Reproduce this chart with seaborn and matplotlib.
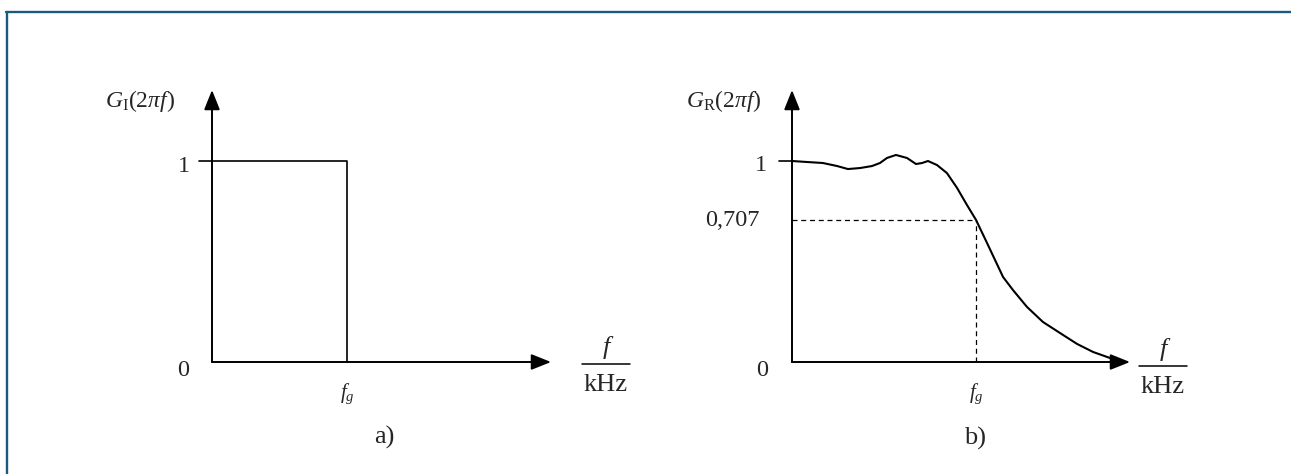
import matplotlib
matplotlib.use("Agg")
import matplotlib.pyplot as plt
from matplotlib.lines import Line2D
import numpy as np
import pandas as pd
import seaborn as sns

# ---------------- data ----------------
# a) ideal low-pass: frequency in units of f/fg
ideal_f = [0.0, 1.0, 1.0]
ideal_g = [1.0, 1.0, 0.0]

# b) real low-pass response read from the picture (f in units of f/fg)
real_f = [0.000, 0.082, 0.168, 0.245, 0.304, 0.370, 0.435, 0.478, 0.516, 0.565,
          0.625, 0.674, 0.707, 0.739, 0.788, 0.842, 0.897, 0.951, 1.000, 1.060,
          1.147, 1.201, 1.277, 1.364, 1.457, 1.549, 1.636, 1.728]
real_g = [1.000, 0.995, 0.990, 0.975, 0.960, 0.965, 0.975, 0.990, 1.015, 1.030,
          1.015, 0.985, 0.990, 1.000, 0.980, 0.940, 0.866, 0.781, 0.707, 0.592,
          0.423, 0.358, 0.274, 0.199, 0.144, 0.090, 0.050, 0.020]

cutoff_level = 0.707
f_cut = 1.0

ytick_left = [0, 1]
ytick_left_labels = ["0", "1"]
ytick_right = [0, cutoff_level, 1]
ytick_right_labels = ["0", "0,707", "1"]

# ---------------- style ----------------
sns.set_theme(style="white")
plt.rcParams["font.family"] = ["Liberation Serif", "DejaVu Serif"]
plt.rcParams["mathtext.fontset"] = "custom"
plt.rcParams["mathtext.rm"] = "Liberation Serif"
plt.rcParams["mathtext.it"] = "Liberation Serif:italic"
plt.rcParams["mathtext.bf"] = "Liberation Serif:bold"

W, H = 1291, 474
fig = plt.figure(figsize=(W / 100, H / 100), dpi=100)
fig.patch.set_facecolor("white")

# frame lines (top and left) of the picture
border = "#1b5a7d"
fig.add_artist(Line2D([6 / W, 1.0], [1 - 12 / H, 1 - 12 / H], color=border, lw=1.7))
fig.add_artist(Line2D([7 / W, 7 / W], [0.0, 1 - 12 / H], color=border, lw=1.7))

ypx0, ypx1 = 362, 161          # pixel rows of G=0 and G=1
ytop_px = 90                   # arrow tip row
ytop = (ypx0 - ytop_px) / (ypx0 - ypx1)


def make_axes(x0_px, xfg_px, xend_px):
    ax = fig.add_axes([x0_px / W, (H - ypx0) / H, (xend_px - x0_px) / W, (ypx0 - ytop_px) / H])
    ax.set_xlim(0, (xend_px - x0_px) / (xfg_px - x0_px))
    ax.set_ylim(0, ytop)
    ax.axis("off")
    ax.patch.set_alpha(0)
    xmax = ax.get_xlim()[1]
    arrow = dict(arrowstyle="-|>,head_length=0.6,head_width=0.24", color="black",
                 lw=1.4, shrinkA=0, shrinkB=0, mutation_scale=20)
    ax.annotate("", xy=(0, ytop), xytext=(0, 0), arrowprops=arrow, annotation_clip=False)
    ax.annotate("", xy=(xmax, 0), xytext=(0, 0), arrowprops=arrow, annotation_clip=False)
    return ax


axL = make_axes(212, 347, 551)
axR = make_axes(792, 976, 1130)

# ---- a) ideal ----
dfL = pd.DataFrame({"f": ideal_f, "G": ideal_g})
sns.lineplot(data=dfL, x="f", y="G", ax=axL, sort=False, estimator=None,
             color="black", lw=1.2)

# ---- b) real ----
dfR = pd.DataFrame({"f": real_f, "G": real_g})
sns.lineplot(data=dfR, x="f", y="G", ax=axR, sort=False, estimator=None,
             color="black", lw=1.5)
dash = dict(color="black", lw=0.9, ls=(0, (4, 3)))
axR.plot([0, f_cut], [cutoff_level, cutoff_level], **dash)
axR.plot([f_cut, f_cut], [0, cutoff_level], **dash)

# tick mark at 1 (left of the axis)
for ax in (axL, axR):
    ax.annotate("", xy=(0, 1), xytext=(-13, 0), textcoords="offset pixels",
                xycoords="data", arrowprops=dict(arrowstyle="-", lw=1.2, color="black",
                                                 shrinkA=0, shrinkB=0),
                annotation_clip=False)

fs_num = 17.5
fs = 19
# y tick labels: (value, label, dx px of centre, dy px of baseline)
left_offsets = {"0": (-29, -14), "1": (-28, -11)}
right_offsets = {"0": (-30, -14), "0,707": (-60, -6), "1": (-31, -10)}
for v, lab in zip(ytick_left, ytick_left_labels):
    dx, dy = left_offsets[lab]
    axL.annotate(lab, xy=(0, v), xytext=(dx, dy), textcoords="offset pixels",
                 ha="center", va="baseline", fontsize=fs_num, annotation_clip=False)
for v, lab in zip(ytick_right, ytick_right_labels):
    dx, dy = right_offsets[lab]
    axR.annotate(lab, xy=(0, v), xytext=(dx, dy), textcoords="offset pixels",
                 ha="center", va="baseline", fontsize=fs_num, annotation_clip=False)

# x tick label f_g
for ax in (axL, axR):
    ax.annotate(r"$f_{g}$", xy=(f_cut, 0), xytext=(0, -32), textcoords="offset pixels",
                ha="center", va="center", fontsize=15, annotation_clip=False)


def ftext(x, y, s, **kw):
    fig.text(x / W, 1 - y / H, s, **kw)


# axis titles
ftext(140, 107, r"$G_{\mathrm{I}}\mathit{(2\pi f)}$", ha="center", va="baseline", fontsize=17)
ftext(724, 107, r"$G_{\mathrm{R}}\mathit{(2\pi f)}$", ha="center", va="baseline", fontsize=17)

# f / kHz units
for xc, yline in ((606, 364), (1163, 366)):
    fig.add_artist(Line2D([(xc - 24) / W, (xc + 24) / W], [1 - yline / H] * 2,
                          color="black", lw=1.1))
    ftext(xc, yline - 10, "f", ha="center", va="baseline", fontsize=fs, style="italic")
    ftext(xc, yline + 27, "kHz", ha="center", va="baseline", fontsize=fs)

# panel captions
ftext(384, 437, "a)", ha="center", va="center", fontsize=fs)
ftext(975, 438, "b)", ha="center", va="center", fontsize=fs)

fig.savefig("out.png", dpi=100, facecolor="white")
